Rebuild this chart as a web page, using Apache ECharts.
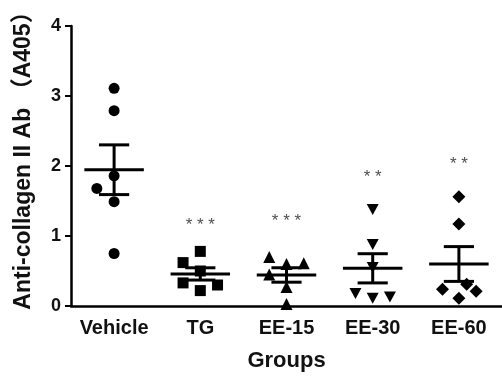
<!DOCTYPE html>
<html>
<head>
<meta charset="utf-8">
<script src="https://cdn.jsdelivr.net/npm/echarts@6/dist/echarts.min.js"></script>
<style>
  html, body { margin: 0; padding: 0; background: #fff; }
  #chart { width: 502px; height: 377px; }
</style>
</head>
<body>
<div id="chart"></div>
<script>
// groups on the x axis
const groups = ['Vehicle', 'TG', 'EE-15', 'EE-30', 'EE-60']
const yTicks = [0, 1, 2, 3, 4]

// individual values (A405)
const vehicle = [3.11, 2.79, 1.86, 1.68, 1.49, 0.75]
const tg = [0.78, 0.62, 0.50, 0.33, 0.30, 0.22]
const ee15 = [0.70, 0.60, 0.61, 0.45, 0.27, 0.03]
const ee30 = [1.38, 0.88, 0.55, 0.18, 0.11, 0.13]
const ee60 = [1.56, 1.17, 0.24, 0.31, 0.21, 0.11]

// horizontal scatter of the dots inside each group (in category widths)
const vehicleJitter = [0, 0, 0, -0.2, 0, 0]
const tgJitter = [0, -0.2, 0, -0.2, 0.2, 0]
const ee15Jitter = [-0.2, 0, 0.2, -0.2, 0, 0]
const ee30Jitter = [0, 0, 0, -0.2, 0, 0.2]
const ee60Jitter = [0, 0, -0.19, 0.09, 0.2, 0]

// significance marks vs Vehicle
const stars = ['', '***', '***', '**', '**']
const starY = [null, 1.15, 1.21, 1.84, 2.02]

const allValues = [vehicle, tg, ee15, ee30, ee60]
const allJitter = [vehicleJitter, tgJitter, ee15Jitter, ee30Jitter, ee60Jitter]
const symbols = ['circle', 'rect', 'triangle', 'path://M0,0 L10,0 L5,9 Z', 'diamond']
const symbolSizes = [11, 11, 12, [12, 11], 13]

function mean(arr) {
    return arr.reduce((a, b) => a + b, 0) / arr.length
}
function sem(arr) {
    let m = mean(arr)
    let v = arr.reduce((a, b) => a + (b - m) * (b - m), 0) / (arr.length - 1)
    return Math.sqrt(v / arr.length)
}

const font = 'Liberation Sans, Arial, Noto Sans CJK SC, sans-serif'

let series = allValues.map((vals, g) => ({
    type: 'scatter',
    xAxisIndex: 1,
    symbol: symbols[g],
    symbolSize: symbolSizes[g],
    itemStyle: { color: '#000', opacity: 1 },
    z: 3,
    data: vals.map((v, i) => [g + allJitter[g][i], v])
}))

// mean +/- SEM
series.push({
    type: 'custom',
    xAxisIndex: 1,
    z: 4,
    data: allValues.map((vals, g) => [g, mean(vals), sem(vals)]),
    renderItem(params, api) {
        let x = api.value(0), m = api.value(1), s = api.value(2)
        let style = { stroke: '#000', lineWidth: 3 }
        let seg = (x1, y1, x2, y2) => {
            let p1 = api.coord([x1, y1]), p2 = api.coord([x2, y2])
            return { type: 'line', shape: { x1: p1[0], y1: p1[1], x2: p2[0], y2: p2[1] }, style: style }
        }
        return {
            type: 'group',
            children: [
                seg(x - 0.345, m, x + 0.345, m),
                seg(x, m - s, x, m + s),
                seg(x - 0.175, m + s, x + 0.175, m + s),
                seg(x - 0.175, m - s, x + 0.175, m - s)
            ]
        }
    }
})

// asterisks
series.push({
    type: 'scatter',
    xAxisIndex: 1,
    symbolSize: 0,
    silent: true,
    data: stars.map((s, g) => ({ value: [g, starY[g]], name: s })).filter(d => d.name),
    label: {
        show: true,
        position: 'inside',
        formatter: p => p.name.split('').join(' '),
        fontFamily: font,
        fontSize: 17,
        color: '#222'
    }
})

let chart = echarts.init(document.getElementById('chart'))
chart.setOption({
    animation: false,
    backgroundColor: '#fff',
    grid: { left: 71, right: 0, top: 26, bottom: 65 },
    xAxis: [
        {
            type: 'category',
            data: groups,
            boundaryGap: true,
            name: 'Groups',
            nameLocation: 'middle',
            nameGap: 44,
            nameTextStyle: { fontFamily: font, fontWeight: 'bold', fontSize: 22, color: '#111' },
            axisLine: { lineStyle: { color: '#000', width: 2.5 } },
            axisTick: { alignWithLabel: true, length: 7, lineStyle: { color: '#000', width: 2 } },
            axisLabel: { interval: 0, fontFamily: font, fontWeight: 'bold', fontSize: 20, color: '#111', margin: 12 }
        },
        {
            type: 'value',
            min: -0.5,
            max: 4.5,
            show: false
        }
    ],
    yAxis: {
        type: 'value',
        min: yTicks[0],
        max: yTicks[yTicks.length - 1],
        interval: 1,
        name: 'Anti-collagen II Ab （A405）',
        nameLocation: 'middle',
        nameGap: 36,
        nameRotate: 90,
        nameTextStyle: { fontFamily: font, fontWeight: 'bold', fontSize: 23, color: '#111', padding: [0, 0, 0, 22] },
        axisLine: { show: true, onZero: false, lineStyle: { color: '#000', width: 2.5 } },
        axisTick: { show: true, length: 6, lineStyle: { color: '#000', width: 2 } },
        axisLabel: { fontFamily: font, fontWeight: 'bold', fontSize: 18, color: '#111', margin: 10 },
        splitLine: { show: false }
    },
    series: series
})
</script>
</body>
</html>
